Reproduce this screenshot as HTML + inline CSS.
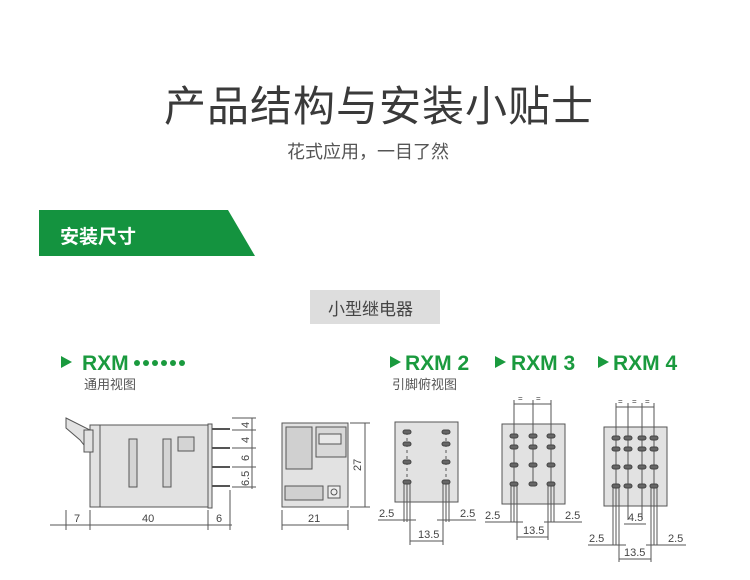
<!DOCTYPE html><html><head><meta charset="utf-8"><style>
body{margin:0;width:750px;height:580px;background:#fff;overflow:hidden;position:relative;font-family:"Liberation Sans","Noto Sans CJK SC",sans-serif}
.t{position:absolute;white-space:nowrap}
</style></head><body>
<div class="t" style="left:164px;top:73px;font-size:42px;color:#3a3a3a;letter-spacing:1px">产品结构与安装小贴士</div>
<div class="t" style="left:287px;top:138px;font-size:18px;color:#555">花式应用，一目了然</div>
<svg style="position:absolute;left:0;top:0" width="750" height="580">
<polygon points="39,210 228,210 255,256 39,256" fill="#14933f"/>
<rect x="310" y="290" width="130" height="34" fill="#ddd"/>
<g fill="none" stroke="#555" stroke-width="1">
<rect x="90" y="425" width="118" height="82" fill="#e2e2e2"/>
<line x1="100" y1="425" x2="100" y2="507"/>
<polygon points="66,418 90,430 90,440 84,445 80,440 66,428" fill="#e2e2e2"/>
<rect x="84" y="430" width="9" height="22" fill="#e2e2e2"/>
<rect x="129" y="439" width="8" height="48" fill="#d4d4d4"/>
<rect x="163" y="439" width="8" height="48" fill="#d4d4d4"/>
<rect x="178" y="437" width="16" height="14" fill="#d4d4d4"/>
<rect x="208" y="424" width="4" height="84" fill="#e2e2e2"/>
<line x1="212" y1="429" x2="230" y2="429" stroke-width="2"/>
<line x1="212" y1="448" x2="230" y2="448" stroke-width="2"/>
<line x1="212" y1="467" x2="230" y2="467" stroke-width="2"/>
<line x1="212" y1="486" x2="230" y2="486" stroke-width="2"/>
<line x1="252" y1="418" x2="252" y2="489"/>
<line x1="232" y1="418" x2="256" y2="418"/><line x1="232" y1="430" x2="256" y2="430"/><line x1="232" y1="448" x2="256" y2="448"/><line x1="232" y1="467" x2="256" y2="467"/><line x1="232" y1="487" x2="256" y2="487"/>
<line x1="66" y1="510" x2="66" y2="530"/><line x1="90" y1="510" x2="90" y2="530"/><line x1="208" y1="510" x2="208" y2="530"/><line x1="230" y1="490" x2="230" y2="530"/>
<line x1="50" y1="525" x2="232" y2="525"/>
<rect x="282" y="423" width="66" height="84" fill="#e2e2e2"/>
<rect x="286" y="427" width="26" height="42" fill="#d0d0d0"/>
<rect x="316" y="427" width="30" height="30" fill="#d8d8d8"/>
<rect x="319" y="434" width="22" height="10" fill="#e8e8e8"/>
<rect x="285" y="486" width="38" height="14" fill="#d0d0d0"/>
<rect x="328" y="486" width="12" height="12" fill="#eee"/><circle cx="334" cy="492" r="3"/>
<line x1="350" y1="423" x2="370" y2="423"/><line x1="350" y1="507" x2="370" y2="507"/><line x1="365" y1="423" x2="365" y2="507"/>
<line x1="282" y1="510" x2="282" y2="530"/><line x1="348" y1="510" x2="348" y2="530"/><line x1="282" y1="525" x2="348" y2="525"/>
<rect x="395" y="422" width="63" height="80" fill="#e2e2e2"/>
<line x1="407" y1="432" x2="407" y2="482" stroke-dasharray="3,3"/><line x1="446" y1="432" x2="446" y2="482" stroke-dasharray="3,3"/>
<line x1="404" y1="482" x2="404" y2="522"/><line x1="407" y1="482" x2="407" y2="522"/><line x1="410" y1="482" x2="410" y2="545"/>
<line x1="443" y1="482" x2="443" y2="545"/><line x1="446" y1="482" x2="446" y2="522"/><line x1="449" y1="482" x2="449" y2="522"/>
<line x1="378" y1="520" x2="416" y2="520"/><line x1="437" y1="520" x2="476" y2="520"/><line x1="410" y1="541" x2="443" y2="541"/>
<rect x="502" y="424" width="63" height="80" fill="#e2e2e2"/>
<line x1="514" y1="400" x2="514" y2="484"/><line x1="533" y1="400" x2="533" y2="484"/><line x1="551" y1="400" x2="551" y2="484"/>
<line x1="514" y1="404" x2="551" y2="404"/>
<line x1="511" y1="484" x2="511" y2="522"/><line x1="514" y1="484" x2="514" y2="522"/><line x1="517" y1="484" x2="517" y2="540"/>
<line x1="548" y1="484" x2="548" y2="540"/><line x1="551" y1="484" x2="551" y2="522"/><line x1="554" y1="484" x2="554" y2="522"/>
<line x1="485" y1="522" x2="523" y2="522"/><line x1="544" y1="522" x2="582" y2="522"/><line x1="517" y1="537" x2="548" y2="537"/>
<rect x="604" y="427" width="63" height="79" fill="#e2e2e2"/>
<line x1="616" y1="403" x2="616" y2="486"/><line x1="628" y1="403" x2="628" y2="520"/><line x1="642" y1="403" x2="642" y2="520"/><line x1="654" y1="403" x2="654" y2="486"/>
<line x1="616" y1="407" x2="654" y2="407"/>
<line x1="613" y1="486" x2="613" y2="545"/><line x1="616" y1="486" x2="616" y2="545"/><line x1="619" y1="486" x2="619" y2="562"/>
<line x1="651" y1="486" x2="651" y2="562"/><line x1="654" y1="486" x2="654" y2="545"/><line x1="657" y1="486" x2="657" y2="545"/>
<line x1="624" y1="524" x2="646" y2="524"/>
<line x1="588" y1="545" x2="626" y2="545"/><line x1="646" y1="545" x2="686" y2="545"/><line x1="619" y1="559" x2="651" y2="559"/>
</g>
<g fill="#666" stroke="#444" stroke-width="1">
<rect x="403" y="430" width="8" height="4" rx="2"/><rect x="403" y="442" width="8" height="4" rx="2"/><rect x="403" y="460" width="8" height="4" rx="2"/><rect x="403" y="480" width="8" height="4" rx="2"/>
<rect x="442" y="430" width="8" height="4" rx="2"/><rect x="442" y="442" width="8" height="4" rx="2"/><rect x="442" y="460" width="8" height="4" rx="2"/><rect x="442" y="480" width="8" height="4" rx="2"/>
<rect x="510" y="434" width="8" height="4" rx="2"/><rect x="510" y="445" width="8" height="4" rx="2"/><rect x="510" y="463" width="8" height="4" rx="2"/><rect x="510" y="482" width="8" height="4" rx="2"/>
<rect x="529" y="434" width="8" height="4" rx="2"/><rect x="529" y="445" width="8" height="4" rx="2"/><rect x="529" y="463" width="8" height="4" rx="2"/><rect x="529" y="482" width="8" height="4" rx="2"/>
<rect x="547" y="434" width="8" height="4" rx="2"/><rect x="547" y="445" width="8" height="4" rx="2"/><rect x="547" y="463" width="8" height="4" rx="2"/><rect x="547" y="482" width="8" height="4" rx="2"/>
<rect x="612" y="436" width="8" height="4" rx="2"/><rect x="612" y="447" width="8" height="4" rx="2"/><rect x="612" y="465" width="8" height="4" rx="2"/><rect x="612" y="484" width="8" height="4" rx="2"/>
<rect x="624" y="436" width="8" height="4" rx="2"/><rect x="624" y="447" width="8" height="4" rx="2"/><rect x="624" y="465" width="8" height="4" rx="2"/><rect x="624" y="484" width="8" height="4" rx="2"/>
<rect x="638" y="436" width="8" height="4" rx="2"/><rect x="638" y="447" width="8" height="4" rx="2"/><rect x="638" y="465" width="8" height="4" rx="2"/><rect x="638" y="484" width="8" height="4" rx="2"/>
<rect x="650" y="436" width="8" height="4" rx="2"/><rect x="650" y="447" width="8" height="4" rx="2"/><rect x="650" y="465" width="8" height="4" rx="2"/><rect x="650" y="484" width="8" height="4" rx="2"/>
</g>
<g fill="#1a9a3e">
<polygon points="61,356 61,368 72,362"/><polygon points="390,356 390,368 401,362"/><polygon points="495,356 495,368 506,362"/><polygon points="598,356 598,368 609,362"/>
</g>
<g font-family="Liberation Sans, sans-serif" fill="#1a9a3e" font-size="21" font-weight="bold">
<text x="82" y="370">RXM</text>
<text x="405" y="370">RXM 2</text><text x="511" y="370">RXM 3</text><text x="613" y="370">RXM 4</text>
</g>
<g fill="#1a9a3e"><circle cx="137" cy="363" r="3"/><circle cx="146" cy="363" r="3"/><circle cx="155" cy="363" r="3"/><circle cx="164" cy="363" r="3"/><circle cx="173" cy="363" r="3"/><circle cx="182" cy="363" r="3"/></g>
<g font-family="Liberation Sans, Noto Sans CJK SC, sans-serif" fill="#555" font-size="13">
<text x="84" y="389">通用视图</text><text x="392" y="389">引脚俯视图</text>
</g>
<g font-family="Liberation Sans, sans-serif" fill="#444" font-size="11">
<text x="74" y="522">7</text><text x="142" y="522">40</text><text x="216" y="522">6</text><text x="308" y="522">21</text>
<text transform="translate(249,428) rotate(-90)">4</text><text transform="translate(249,443) rotate(-90)">4</text><text transform="translate(249,461) rotate(-90)">6</text><text transform="translate(249,486) rotate(-90)">6.5</text>
<text transform="translate(361,471) rotate(-90)">27</text>
<text x="379" y="517">2.5</text><text x="460" y="517">2.5</text><text x="418" y="538">13.5</text>
<text x="485" y="519">2.5</text><text x="565" y="519">2.5</text><text x="523" y="534">13.5</text>
<text x="628" y="521">4.5</text><text x="589" y="542">2.5</text><text x="668" y="542">2.5</text><text x="624" y="556">13.5</text>
<text x="518" y="401" font-size="8">=</text><text x="536" y="401" font-size="8">=</text>
<text x="618" y="404" font-size="8">=</text><text x="632" y="404" font-size="8">=</text><text x="645" y="404" font-size="8">=</text>
</g>
</svg>
<div class="t" style="left:60px;top:222px;font-size:19px;font-weight:bold;color:#fff">安装尺寸</div>
<div class="t" style="left:328px;top:295px;font-size:17px;color:#444">小型继电器</div>
</body></html>
